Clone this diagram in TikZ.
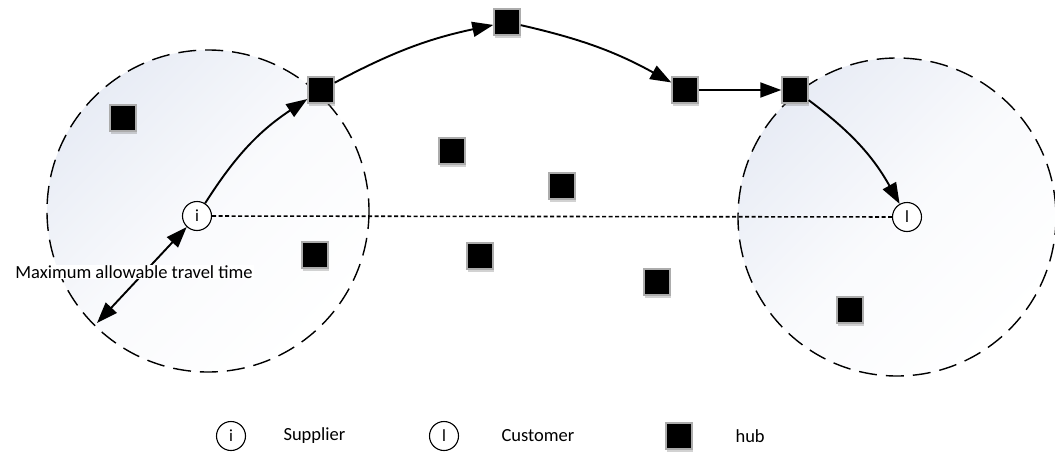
\documentclass[tikz,border=0pt]{standalone}
\usepackage{fontspec}
\setmainfont{Carlito}
\usetikzlibrary{arrows.meta,shadows}
\definecolor{zone}{HTML}{E8ECF5}
\tikzset{
  zonecircle/.style={draw, dash pattern=on 18pt off 9pt, line width=1.4pt, top color=zone, bottom color=white, middle color=white!75!zone, shading angle=45},
  hubnode/.style={draw=gray!65, line width=1.4pt, fill=black, minimum size=26pt, inner sep=0pt,
    drop shadow={shadow xshift=0.8pt, shadow yshift=-2.5pt, opacity=0.35, fill=gray}},
  endnode/.style={circle, draw, fill=white, line width=1.1pt, minimum size=29pt, inner sep=0pt, font=\fontsize{17}{17}\selectfont},
  flow/.style={line width=1.9pt, -{Triangle[length=21pt,width=15pt]}},
  lbl/.style={font=\fontsize{18.5}{19}\selectfont}
}
\begin{document}
\begin{tikzpicture}[x=1pt,y=-1pt]
\useasboundingbox (0,0) rectangle (1055,455);
\fill[white] (0,0) rectangle (1055,455);
% zones
\path[zonecircle] (208,211) circle (161);
\path[zonecircle] (897,217) circle (159);
% hubs
\node[hubnode] (h1) at (123,118) {};
\node[hubnode] (h2) at (321,90) {};
\node[hubnode] (h3) at (315,255) {};
\node[hubnode] (h4) at (507,22) {};
\node[hubnode] (h5) at (685,90) {};
\node[hubnode] (h6) at (795,90) {};
\node[hubnode] (h7) at (452,151) {};
\node[hubnode] (h8) at (562,186) {};
\node[hubnode] (h9) at (480,256) {};
\node[hubnode] (h10) at (657,282) {};
\node[hubnode] (h11) at (850,310) {};
% supplier / customer
\node[endnode] (i) at (197,216) {i};
\node[endnode] (l) at (907,217) {l};
\draw[line width=1.6pt, dash pattern=on 4pt off 2.5pt] (i) -- (l);
% route
\draw[flow] (i) to[bend left=12] (h2);
\draw[flow] (h2) to[bend left=8] (h4);
\draw[flow] (h4) to[bend left=8] (h5);
\draw[flow] (h5) -- (h6);
\draw[flow] (h6) to[bend left=12] (l);
% max travel time
\coordinate (edge) at (97,323);
\draw[line width=1.9pt, {Triangle[length=21pt,width=15pt]}-{Triangle[length=21pt,width=15pt]}] (i) -- (edge);
\node[lbl, fill=white, inner sep=1pt] (mat) at (134,272) {Maximum allowable travel time};
% legend
\node[endnode] (li) at (231,436) {i};
\node[lbl, anchor=west] (ls) at (280,436) {Supplier};
\node[endnode] (ll) at (444,436) {l};
\node[lbl, anchor=west] (lc) at (498,436) {Customer};
\node[hubnode] (lh) at (679,436) {};
\node[lbl, anchor=west] (lhub) at (732,436) {hub};
\end{tikzpicture}
\end{document}
